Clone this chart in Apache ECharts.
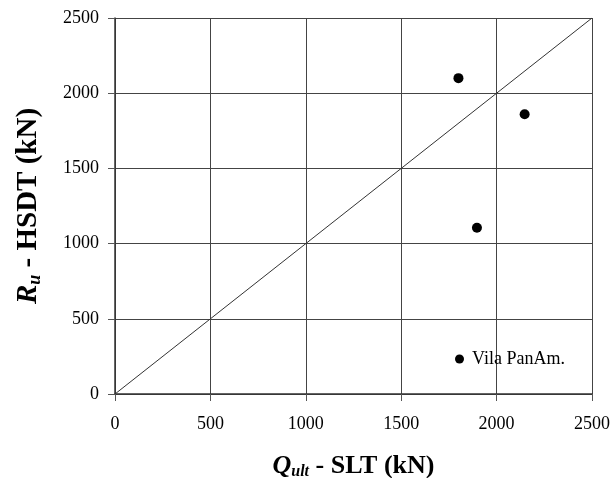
<!DOCTYPE html>
<html lang="en">
<head>
    <meta charset="UTF-8">
    <title>scatter</title>
    <script src="https://cdn.jsdelivr.net/npm/echarts@6/dist/echarts.min.js"></script>
    <style>
        * { margin: 0; padding: 0; }
        body { background-color: #fff; overflow: hidden; }
    </style>
</head>
<body>
<div id="main" style="width: 610px;height:478px;"></div>
<script type="text/javascript">
    // data
    var seriesName = 'Vila PanAm.';
    var qult = [1800, 2147, 1897];   // SLT (kN)
    var ru = [2100, 1860, 1105];     // HSDT (kN)
    var lineX = [0, 2500];           // 1:1 line
    var lineY = [0, 2500];
    var ticks = [0, 500, 1000, 1500, 2000, 2500];

    var points = qult.map(function (q, i) { return [q, ru[i]]; });
    var diag = lineX.map(function (x, i) { return [x, lineY[i]]; });

    var font = 'Liberation Serif, Times New Roman, serif';
    var myChart = echarts.init(document.getElementById('main'));

    function titleRich(size) {
        return {
            i: { fontFamily: font, fontSize: size, fontWeight: 'bold', fontStyle: 'italic', color: '#000' },
            s: { fontFamily: font, fontSize: Math.round(size * 0.62), fontWeight: 'bold', fontStyle: 'italic', color: '#000', padding: [Math.round(size * 0.45), 0, 0, 0] },
            b: { fontFamily: font, fontSize: size, fontWeight: 'bold', color: '#000' }
        };
    }

    var axisCommon = {
        type: 'value',
        min: ticks[0],
        max: ticks[ticks.length - 1],
        interval: 500,
        axisLine: { show: true, lineStyle: { color: '#333', width: 1.5 } },
        axisTick: { show: true, inside: false, length: 7, lineStyle: { color: '#555' } },
        splitLine: { show: true, lineStyle: { color: '#444', width: 1 } },
        axisLabel: {
            color: '#000', fontFamily: font, fontSize: 18,
            formatter: function (v) { return String(v); }
        }
    };

    var option = {
        animation: false,
        grid: { left: 115, right: 18, top: 18, bottom: 84, outerBoundsMode: 'none', containLabel: false },
        legend: {
            data: [seriesName],
            left: 450,
            top: 345,
            icon: 'circle',
            itemWidth: 9,
            itemHeight: 9,
            textStyle: { color: '#000', fontFamily: font, fontSize: 18, padding: [0, 0, 0, 3] }
        },
        xAxis: echarts.util.merge({
            name: '{i|Q}{s|ult}{b| - SLT (kN)}',
            nameLocation: 'middle',
            nameGap: 58,
            axisLabel: { margin: 21 },
            nameTextStyle: { rich: titleRich(26) }
        }, axisCommon),
        yAxis: echarts.util.merge({
            name: '{i|R}{s|u}{b| - HSDT (kN)}',
            nameLocation: 'middle',
            nameGap: 71,
            nameRotate: 90,
            axisLabel: { margin: 16 },
            nameTextStyle: { rich: titleRich(29) }
        }, axisCommon),
        series: [
            {
                name: '1:1',
                type: 'line',
                data: diag,
                symbol: 'none',
                lineStyle: { color: '#333', width: 1 },
                silent: true
            },
            {
                name: seriesName,
                type: 'scatter',
                data: points,
                symbol: 'circle',
                symbolSize: 10,
                itemStyle: { color: '#000', opacity: 1 }
            }
        ]
    };
    myChart.setOption(option);
</script>
</body>
</html>
